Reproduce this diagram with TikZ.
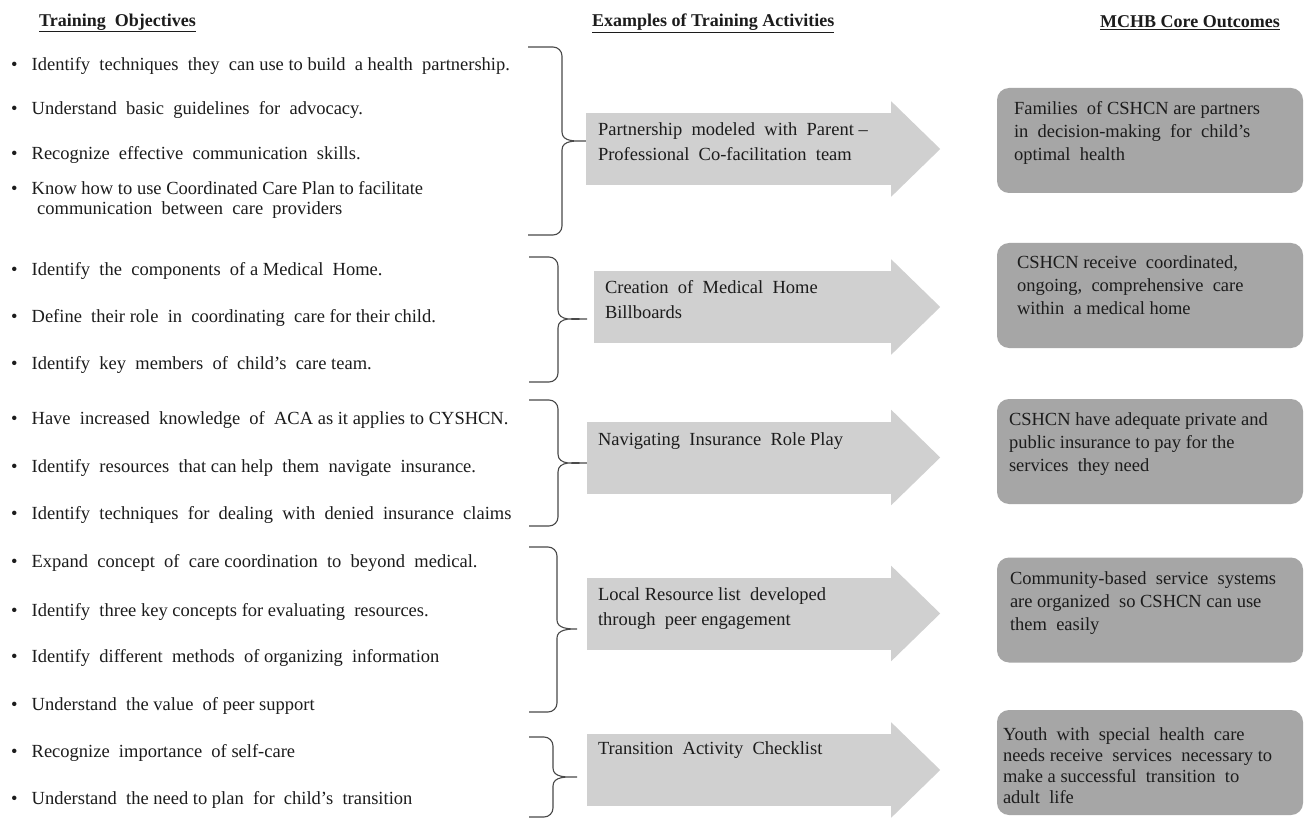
\documentclass[tikz,border=0pt]{standalone}
\usepackage{fontspec}
\setmainfont{Liberation Serif}

\definecolor{actgray}{RGB}{208,208,208}
\definecolor{outgray}{RGB}{166,166,166}
\definecolor{inkgray}{RGB}{28,28,28}

\tikzset{
  heading/.style={anchor=west, inner sep=0pt, text=inkgray, font=\fontsize{18}{20}\selectfont\bfseries},
  objective/.style={anchor=west, inner sep=0pt, align=left, text=inkgray, font=\fontsize{18.5}{19.5}\selectfont},
  actbody/.style={rectangle, fill=actgray, minimum height=72pt, inner sep=0pt},
  acttext/.style={anchor=north west, inner sep=0pt, align=left, text=inkgray, font=\fontsize{18.5}{25}\selectfont},
  outbox/.style={rectangle, rounded corners=12pt, fill=outgray, minimum width=306pt, minimum height=105pt, inner sep=0pt},
  outtext/.style={anchor=north west, inner sep=0pt, align=left, text=inkgray, font=\fontsize{18.5}{23}\selectfont},
  bracket/.style={draw=inkgray!80, line width=1.1pt},
  % #1 stem x, #2 tip x, #3 tip y, #4 bottom y, all from the upper end
  pics/objbrace/.style n args={4}{code={
    \draw[bracket] (0,0) -- (#1-9,0) to[out=0,in=90] (#1,9) -- (#1,#3-9)
      to[out=-90,in=180] (#2,#3) to[out=180,in=90] (#1,#3+9)
      -- (#1,#4-9) to[out=-90,in=0] (#1-9,#4) -- (0,#4);
  }},
}

\begin{document}
\begin{tikzpicture}[x=1pt, y=-1pt]
  \useasboundingbox[fill=white] (0,0) rectangle (1306,818);

  % column headings
  \node[heading] (headobj) at (39,23) {\underline{Training\ \ Objectives}};
  \node[heading] (headact) at (592,23) {\underline{Examples of Training Activities}};
  \node[heading] (headout) at (1100,23) {\underline{MCHB Core Outcomes}};

  % training objectives
  \node[objective] (obj1) at (11,66) {\textbullet\hspace{14pt}Identify\ \ techniques\ \ they\ \ can use to build\ \ a health\ \ partnership.};
  \node[objective] (obj2) at (11,110) {\textbullet\hspace{14pt}Understand\ \ basic\ \ guidelines\ \ for\ \ advocacy.};
  \node[objective] (obj3) at (11,155) {\textbullet\hspace{14pt}Recognize\ \ effective\ \ communication\ \ skills.};
  \node[objective] (obj4) at (11,200) {\textbullet\hspace{14pt}Know how to use Coordinated Care Plan to facilitate\\\hspace*{26pt}communication\ \ between\ \ care\ \ providers};
  \node[objective] (obj5) at (11,271) {\textbullet\hspace{14pt}Identify\ \ the\ \ components\ \ of a Medical\ \ Home.};
  \node[objective] (obj6) at (11,318) {\textbullet\hspace{14pt}Define\ \ their role\ \ in\ \ coordinating\ \ care for their child.};
  \node[objective] (obj7) at (11,365) {\textbullet\hspace{14pt}Identify\ \ key\ \ members\ \ of\ \ child’s\ \ care team.};
  \node[objective] (obj8) at (11,420) {\textbullet\hspace{14pt}Have\ \ increased\ \ knowledge\ \ of\ \ ACA as it applies to CYSHCN.};
  \node[objective] (obj9) at (11,468) {\textbullet\hspace{14pt}Identify\ \ resources\ \ that can help\ \ them\ \ navigate\ \ insurance.};
  \node[objective] (obj10) at (11,515) {\textbullet\hspace{14pt}Identify\ \ techniques\ \ for\ \ dealing\ \ with\ \ denied\ \ insurance\ \ claims};
  \node[objective] (obj11) at (11,563) {\textbullet\hspace{14pt}Expand\ \ concept\ \ of\ \ care coordination\ \ to\ \ beyond\ \ medical.};
  \node[objective] (obj12) at (11,612) {\textbullet\hspace{14pt}Identify\ \ three key concepts for evaluating\ \ resources.};
  \node[objective] (obj13) at (11,658) {\textbullet\hspace{14pt}Identify\ \ different\ \ methods\ \ of organizing\ \ information};
  \node[objective] (obj14) at (11,706) {\textbullet\hspace{14pt}Understand\ \ the value\ \ of peer support};
  \node[objective] (obj15) at (11,753) {\textbullet\hspace{14pt}Recognize\ \ importance\ \ of self-care};
  \node[objective] (obj16) at (11,800) {\textbullet\hspace{14pt}Understand\ \ the need to plan\ \ for\ \ child’s\ \ transition};

  % braces grouping the objectives
  \pic at (528,47) {objbrace={34}{59}{94}{188}};
  \pic at (529,257) {objbrace={29}{58}{62}{125}};
  \pic at (529,400) {objbrace={29}{58}{63}{126}};
  \pic at (529,547) {objbrace={28}{48}{82}{165}};
  \pic at (529,737) {objbrace={24}{48}{40}{80}};

  % activity arrows
  \node[actbody, minimum width=306pt] (act1) at (739,149) {};
  \node[actbody, minimum width=298pt] (act2) at (743,307) {};
  \node[actbody, minimum width=305pt] (act3) at (739.5,457.5) {};
  \node[actbody, minimum width=305pt] (act4) at (739.5,613.5) {};
  \node[actbody, minimum width=305pt] (act5) at (739.5,770) {};
  \foreach \n in {1,...,5}
    \fill[actgray] ([xshift=-1pt,yshift=11.5pt]act\n.north east) -- ([xshift=48pt]act\n.east)
      -- ([xshift=-1pt,yshift=-11.5pt]act\n.south east) -- cycle;

  \node[acttext] (act1txt) at ([xshift=12pt,yshift=-10pt]act1.north west) {Partnership\ \ modeled\ \ with\ \ Parent –\\Professional\ \ Co-facilitation\ \ team};
  \node[acttext] (act2txt) at ([xshift=11pt,yshift=-9pt]act2.north west) {Creation\ \ of\ \ Medical\ \ Home\\Billboards};
  \node[acttext] (act3txt) at ([xshift=11pt,yshift=-11pt]act3.north west) {Navigating\ \ Insurance\ \ Role Play};
  \node[acttext] (act4txt) at ([xshift=11pt,yshift=-10pt]act4.north west) {Local Resource list\ \ developed\\through\ \ peer engagement};
  \node[acttext] (act5txt) at ([xshift=11pt,yshift=-8pt]act5.north west) {Transition\ \ Activity\ \ Checklist};

  % core outcome boxes
  \node[outbox] (out1) at (1150,140.5) {};
  \node[outbox] (out2) at (1150,295.5) {};
  \node[outbox] (out3) at (1150,451.5) {};
  \node[outbox] (out4) at (1150,610) {};
  \node[outbox] (out5) at (1150,762.5) {};

  \node[outtext] (out1txt) at ([xshift=17pt,yshift=-13pt]out1.north west) {Families\ \ of CSHCN are partners\\in\ \ decision-making\ \ for\ \ child’s\\optimal\ \ health};
  \node[outtext] (out2txt) at ([xshift=20pt,yshift=-13pt]out2.north west) {CSHCN receive\ \ coordinated,\\ongoing,\ \ comprehensive\ \ care\\within\ \ a medical home};
  \node[outtext] (out3txt) at ([xshift=12pt,yshift=-14pt]out3.north west) {CSHCN have adequate private and\\public insurance to pay for the\\services\ \ they need};
  \node[outtext] (out4txt) at ([xshift=13pt,yshift=-14pt]out4.north west) {Community-based\ \ service\ \ systems\\are organized\ \ so CSHCN can use\\them\ \ easily};
  \node[outtext, font=\fontsize{18.5}{21}\selectfont] (out5txt) at ([xshift=6pt,yshift=-18pt]out5.north west) {Youth\ \ with\ \ special\ \ health\ \ care\\needs receive\ \ services\ \ necessary to\\make a successful\ \ transition\ \ to\\adult\ \ life};
\end{tikzpicture}
\end{document}
